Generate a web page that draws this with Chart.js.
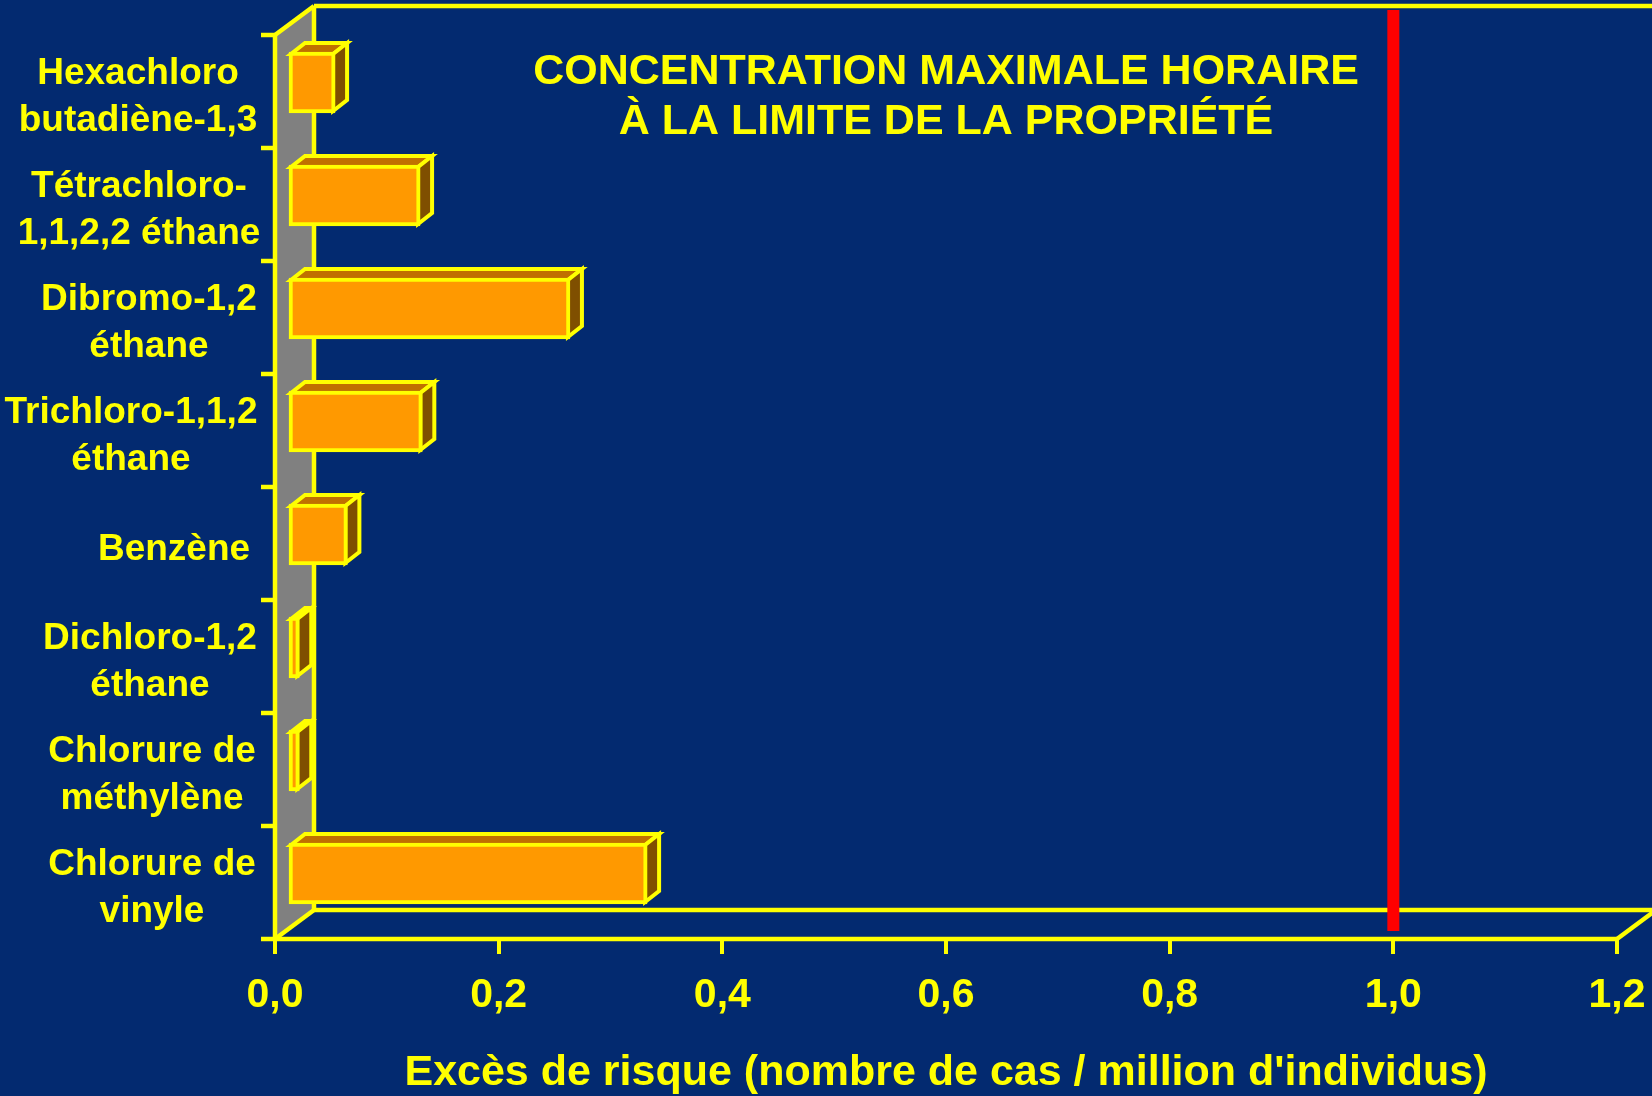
<!DOCTYPE html>
<html>
<head>
<meta charset="utf-8">
<script src="https://cdn.jsdelivr.net/npm/chart.js@4.4.0/dist/chart.umd.min.js"></script>
<style>
  html, body { margin: 0; padding: 0; background: #032a70; }
  canvas { display: block; }
</style>
</head>
<body>
<canvas id="riskChart" width="1652" height="1096"></canvas>
<script>
const substances = [
  ["Hexachloro", "butadiène-1,3"],
  ["Tétrachloro-", "1,1,2,2 éthane"],
  ["Dibromo-1,2", "éthane"],
  ["Trichloro-1,1,2", "éthane"],
  ["Benzène"],
  ["Dichloro-1,2", "éthane"],
  ["Chlorure de", "méthylène"],
  ["Chlorure de", "vinyle"],
];
const excessRisk = [0.043, 0.119, 0.253, 0.121, 0.054, 0.011, 0.011, 0.322];
const riskTicks = [0, 0.2, 0.4, 0.6, 0.8, 1.0, 1.2];
const riskLimit = 1.0;
const titleLines = ["CONCENTRATION MAXIMALE HORAIRE", "À LA LIMITE DE LA PROPRIÉTÉ"];
const axisTitle = "Excès de risque (nombre de cas / million d'individus)";

// the slide's text boxes are not all centred on the same x
const labelCenterX = [138, 139, 149, 131, 174, 150, 152, 152];

const NAVY = "#032a70";
const YELLOW = "#ffff00";
const FONT = "'Liberation Sans', Arial, sans-serif";
const WALL = { x: 39, y: -29 };      // depth of the box
const BAR_SHIFT = { x: 12, y: -9 };  // bars sit inside the box
const BAR_DEPTH = { x: 14, y: -11 };

function seg(ctx, x1, y1, x2, y2) {
  ctx.beginPath();
  ctx.moveTo(x1, y1);
  ctx.lineTo(x2, y2);
  ctx.stroke();
}

function poly(ctx, pts, fill) {
  ctx.beginPath();
  ctx.moveTo(pts[0][0], pts[0][1]);
  for (let i = 1; i < pts.length; i++) ctx.lineTo(pts[i][0], pts[i][1]);
  ctx.closePath();
  ctx.fillStyle = fill;
  ctx.fill();
  ctx.stroke();
}

const box3d = {
  id: "box3d",
  beforeDraw(chart) {
    const ctx = chart.ctx;
    ctx.save();
    ctx.fillStyle = NAVY;
    ctx.fillRect(0, 0, chart.width, chart.height);
    ctx.restore();
  },
  beforeDatasetsDraw(chart) {
    const { ctx, chartArea: a, scales } = chart;
    const dx = WALL.x, dy = WALL.y;

    ctx.save();
    // grey side wall
    ctx.fillStyle = "#808080";
    ctx.beginPath();
    ctx.moveTo(a.left, a.top);
    ctx.lineTo(a.left + dx, a.top + dy);
    ctx.lineTo(a.left + dx, a.bottom + dy);
    ctx.lineTo(a.left, a.bottom);
    ctx.closePath();
    ctx.fill();

    ctx.strokeStyle = YELLOW;
    ctx.lineWidth = 4.5;
    // back edges
    seg(ctx, a.left + dx, a.top + dy, chart.width + 10, a.top + dy);
    seg(ctx, a.left + dx, a.top + dy, a.left + dx, a.bottom + dy);
    seg(ctx, a.left + dx, a.bottom + dy, a.right + dx, a.bottom + dy);
    // depth edges
    seg(ctx, a.left, a.top, a.left + dx, a.top + dy);
    seg(ctx, a.left, a.bottom, a.left + dx, a.bottom + dy);
    seg(ctx, a.right, a.bottom, a.right + dx, a.bottom + dy);
    // front axes and category ticks
    seg(ctx, a.left, a.top, a.left, a.bottom);
    seg(ctx, a.left - 14, a.bottom, a.right, a.bottom);
    const n = chart.data.labels.length;
    const band = (a.bottom - a.top) / n;
    for (let i = 0; i < n; i++) {
      seg(ctx, a.left - 14, a.top + i * band, a.left, a.top + i * band);
    }

    // limit line
    const xl = scales.x.getPixelForValue(riskLimit);
    ctx.fillStyle = "#ff0000";
    ctx.fillRect(xl - 6, a.top + dy + 4, 12, (a.bottom - 8) - (a.top + dy + 4));
    ctx.restore();

    // bars: top and end faces, then chart.js draws the front face
    ctx.save();
    ctx.translate(BAR_SHIFT.x, BAR_SHIFT.y);
    ctx.strokeStyle = YELLOW;
    ctx.lineWidth = 4;
    ctx.lineJoin = "miter";
    const bdx = BAR_DEPTH.x, bdy = BAR_DEPTH.y;
    chart.getDatasetMeta(0).data.forEach((bar) => {
      const p = bar.getProps(["x", "y", "base", "height"], true);
      const L = p.base + 2, R = p.x - 2;
      const T = p.y - p.height / 2 + 2, B = p.y + p.height / 2 - 2;
      poly(ctx, [[L, T], [R, T], [R + bdx, T + bdy], [L + bdx, T + bdy]], "#c07000");
      poly(ctx, [[R, T], [R + bdx, T + bdy], [R + bdx, B + bdy], [R, B]], "#7f4f00");
    });
  },
  afterDatasetsDraw(chart) {
    const { ctx, chartArea: a, scales } = chart;
    ctx.restore();

    ctx.save();
    ctx.fillStyle = YELLOW;
    ctx.textBaseline = "middle";
    ctx.textAlign = "center";

    // title inside the box
    ctx.font = "bold 43px " + FONT;
    const cx = (a.left + a.right) / 2;
    ctx.fillText(titleLines[0], cx, a.top + 37.5);
    ctx.fillText(titleLines[1], cx, a.top + 87);

    // category labels
    ctx.font = "bold 37px " + FONT;
    chart.data.labels.forEach((lines, i) => {
      const y = scales.y.getPixelForValue(i) + 6;
      lines.forEach((line, j) => {
        ctx.fillText(line, labelCenterX[i], y + (j - (lines.length - 1) / 2) * 47.5);
      });
    });
    ctx.restore();
  },
};

const riskChart = new Chart(document.getElementById("riskChart").getContext("2d"), {
  type: "bar",
  data: {
    labels: substances,
    datasets: [
      {
        data: excessRisk,
        backgroundColor: "#ff9900",
        borderColor: YELLOW,
        borderWidth: 4,
        borderSkipped: false,
        barThickness: 61,
        clip: false,
      },
    ],
  },
  options: {
    indexAxis: "y",
    responsive: false,
    animation: false,
    devicePixelRatio: 1,
    layout: { padding: { top: 35, right: 35, left: 0, bottom: 0 } },
    plugins: {
      legend: { display: false },
      tooltip: { enabled: false },
    },
    scales: {
      x: {
        type: "linear",
        min: 0,
        max: 1.2,
        afterBuildTicks: (scale) => {
          scale.ticks = riskTicks.map((v) => ({ value: v }));
        },
        afterFit: (scale) => {
          scale.height = 157;
          scale.paddingLeft = 0;
          scale.paddingRight = 0;
        },
        ticks: {
          color: YELLOW,
          padding: 17,
          maxRotation: 0,
          font: { family: FONT, size: 41, weight: "bold" },
          callback: (v) => v.toFixed(1).replace(".", ","),
        },
        grid: {
          drawOnChartArea: false,
          drawTicks: true,
          tickLength: 15,
          color: YELLOW,
          lineWidth: 4,
        },
        border: { display: false },
        title: {
          display: true,
          text: axisTitle,
          color: YELLOW,
          padding: 0,
          font: { family: FONT, size: 43, weight: "bold", lineHeight: 1.05 },
        },
      },
      y: {
        type: "category",
        afterFit: (scale) => {
          scale.width = 275;
        },
        ticks: { display: false },
        grid: { display: false },
        border: { display: false },
      },
    },
  },
  plugins: [box3d],
});
</script>
</body>
</html>
